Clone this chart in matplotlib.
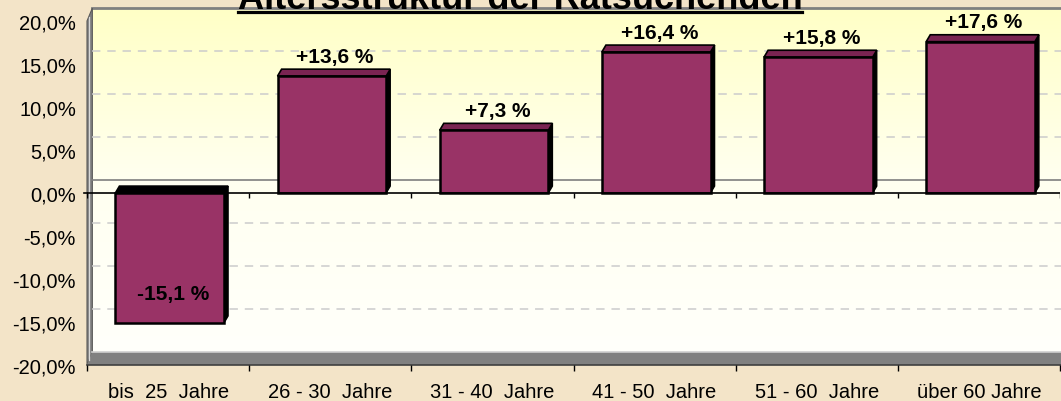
import numpy as np
import matplotlib
matplotlib.use('Agg')
import matplotlib.pyplot as plt
from matplotlib.patches import Polygon
from matplotlib.colors import LinearSegmentedColormap
from matplotlib.ticker import FuncFormatter

plt.rcParams['font.family'] = ['Liberation Sans', 'DejaVu Sans']

# Altersgruppen und Veraenderung in %
kategorien = ["bis  25  Jahre", "26 - 30  Jahre", "31 - 40  Jahre",
              "41 - 50  Jahre", "51 - 60  Jahre", "über 60 Jahre"]
werte = [-15.1, 13.6, 7.3, 16.4, 15.8, 17.6]
y_ticks = [-20, -15, -10, -5, 0, 5, 10, 15, 20]
titel = "Altersstruktur der Ratsuchenden"

papier = '#F3E4C8'
balken = '#993366'
deckel = '#7A2452'
grau = '#808080'

fig = plt.figure(figsize=(10.61, 4.02), dpi=100, facecolor=papier)
ax = fig.add_axes([87/1061, 36/402, 973/1061, 344/402])
ax.set_facecolor('none')
for s in ax.spines.values():
    s.set_visible(False)

# 3D-Versatz (Rueckwand / Balkentiefe) in Datenkoordinaten
wx, wy = 0.033, 1.5
bx, by = 0.025, 0.8
x_links = -0.5
x_rechts = 5.6

# Rueckwand mit Farbverlauf
verlauf = np.linspace(0, 1, 256).reshape(-1, 1)
cmap = LinearSegmentedColormap.from_list('wand', ['#FFFFFB', '#FFFFF0', '#FFFFC6'])
im = ax.imshow(verlauf, extent=(x_links + wx, x_rechts, -20 + wy, 20 + wy),
               origin='lower', aspect='auto', cmap=cmap, zorder=0)
im.set_clip_on(False)
ax.plot([x_links + wx, x_rechts], [20 + wy] * 2, color=grau, lw=2, clip_on=False, zorder=1)

# linke Seitenwand und Boden
ax.add_patch(Polygon([(x_links, -20), (x_links, 20), (x_links + wx, 20 + wy), (x_links + wx, -20 + wy)],
                     closed=True, fc=grau, ec='#5a5a5a', lw=0.8, clip_on=False, zorder=1))
ax.plot([x_links + wx * 0.45] * 2, [-19.4, 20.5], color='#d8d8d8', lw=0.9, clip_on=False, zorder=1.1)
ax.add_patch(Polygon([(x_links, -20), (x_rechts, -20), (x_rechts, -20 + wy), (x_links + wx, -20 + wy)],
                     closed=True, fc=grau, ec='none', clip_on=False, zorder=1))
ax.plot([x_links + wx, x_rechts], [-20 + wy] * 2, color='#cfcfcf', lw=1.2, clip_on=False, zorder=1.1)
ax.plot([x_links, x_rechts], [-20, -20], color='#404040', lw=1.2, clip_on=False, zorder=1.1)

# Gitterlinien an der Rueckwand
for t in y_ticks:
    if t in (-20, 0, 20):
        continue
    ax.plot([x_links + wx, x_rechts], [t + wy] * 2, color='#CCCCCC', lw=1.1,
            dashes=(5.5, 4.5), clip_on=False, zorder=1)
ax.plot([x_links + wx, x_rechts], [wy, wy], color='#7f7f7f', lw=1.2, clip_on=False, zorder=1)

# Balken
x = np.arange(len(werte))
bars = ax.bar(x + 0.01, werte, width=0.67, color=balken, edgecolor='black', linewidth=1.8, zorder=3)
for b, v in zip(bars, werte):
    x0, x1 = b.get_x(), b.get_x() + b.get_width()
    oben, unten = max(v, 0), min(v, 0)
    ax.add_patch(Polygon([(x1, unten), (x1 + bx, unten + by), (x1 + bx, oben + by), (x1, oben)],
                         closed=True, fc='black', ec='black', lw=1, zorder=2.9))
    ax.add_patch(Polygon([(x0, oben), (x0 + bx, oben + by), (x1 + bx, oben + by), (x1, oben)],
                         closed=True, fc=deckel if v > 0 else 'black', ec='black', lw=1.2, zorder=2.9))
    txt = f"{v:+.1f} %".replace('.', ',')
    if v > 0:
        ax.text(b.get_x() + b.get_width() / 2 + 0.02, v + 2.3, txt, ha='center', va='center',
                fontsize=15, fontweight='bold', zorder=5)
    else:
        ax.text(b.get_x() + b.get_width() / 2 + 0.02, v + 3.4, txt, ha='center', va='center',
                fontsize=15, fontweight='bold', zorder=5)

# Nulllinie vorne mit Teilstrichen
ax.axhline(0, color='black', lw=1.2, zorder=4)
ax.plot([x_links - 0.02, x_links], [0, 0], color='black', lw=1.2, clip_on=False, zorder=4)
ax.vlines(np.arange(len(werte) + 1) - 0.5, -0.6, 0, color='black', lw=1, zorder=4)

ax.set_xlim(-0.5, 5.5)
ax.set_ylim(-20, 20)

ax.set_xticks(x)
ax.set_xticklabels(kategorien)
ax.set_xticks(np.arange(len(werte) + 1) - 0.5, minor=True)
ax.tick_params(axis='x', which='major', length=0, pad=12, labelsize=14.5)
ax.tick_params(axis='x', which='minor', length=4, width=1, color='black')
ax.set_yticks(y_ticks)
ax.yaxis.set_major_formatter(FuncFormatter(lambda v, p: f"{v:.1f}%".replace('.', ',')))
ax.tick_params(axis='y', length=0, pad=8, labelsize=14.5)

# Titel (oben abgeschnitten, wie im Original) mit Unterstreichung
t = fig.text(0.49, 1 - 9 / 402, titel, ha='center', va='baseline', fontsize=26, fontweight='bold')
fig.canvas.draw()
bb = t.get_window_extent(renderer=fig.canvas.get_renderer())
y_line = 1 - 12.5 / 402
fig.add_artist(plt.Line2D([bb.x0 / 1061, bb.x1 / 1061], [y_line, y_line], transform=fig.transFigure,
                          color='black', lw=2.3))

fig.savefig('out.png', dpi=100, facecolor=papier)
